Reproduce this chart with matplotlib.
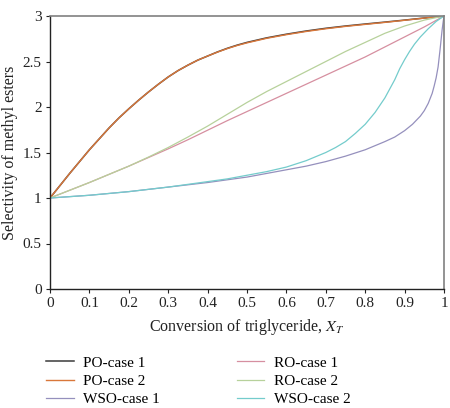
import matplotlib
matplotlib.use("Agg")
import matplotlib.pyplot as plt
import numpy as np

plt.rcParams['font.family'] = ['Liberation Serif', 'DejaVu Serif']
plt.rcParams['mathtext.fontset'] = 'stix'

# Data
po_x = [0, 0.025, 0.05, 0.075, 0.1, 0.125, 0.15, 0.175, 0.2, 0.225, 0.25, 0.275, 0.3, 0.325,
        0.35, 0.375, 0.4, 0.425, 0.45, 0.475, 0.5, 0.55, 0.6, 0.65, 0.7, 0.75, 0.8, 0.85, 0.9,
        0.95, 1.0]
po1_y = [1.0, 1.135, 1.27, 1.40, 1.53, 1.65, 1.77, 1.88, 1.98, 2.075, 2.165, 2.25, 2.33, 2.40,
         2.46, 2.515, 2.56, 2.605, 2.645, 2.68, 2.71, 2.76, 2.80, 2.835, 2.865, 2.89, 2.912, 2.933,
         2.955, 2.978, 3.0]
po2_y = [1.0, 1.135, 1.27, 1.40, 1.53, 1.65, 1.77, 1.88, 1.98, 2.075, 2.165, 2.25, 2.33, 2.40,
         2.46, 2.515, 2.56, 2.603, 2.642, 2.676, 2.705, 2.755, 2.795, 2.83, 2.86, 2.886, 2.908,
         2.93, 2.953, 2.977, 3.0]

ro_x = [0, 0.05, 0.1, 0.15, 0.2, 0.25, 0.3, 0.35, 0.4, 0.45, 0.5, 0.55, 0.6, 0.65, 0.7, 0.75,
        0.8, 0.85, 0.9, 0.95, 1.0]
ro1_y = [1.0, 1.085, 1.17, 1.26, 1.35, 1.445, 1.54, 1.64, 1.745, 1.85, 1.95, 2.05, 2.15, 2.25,
         2.35, 2.45, 2.55, 2.66, 2.77, 2.88, 3.0]
ro2_y = [1.0, 1.085, 1.17, 1.26, 1.35, 1.45, 1.555, 1.67, 1.79, 1.92, 2.05, 2.17, 2.28, 2.39,
         2.50, 2.61, 2.71, 2.81, 2.89, 2.955, 3.0]

wso1_x = [0, 0.05, 0.1, 0.15, 0.2, 0.25, 0.3, 0.35, 0.4, 0.45, 0.5, 0.55, 0.6, 0.65, 0.7, 0.75,
          0.8, 0.85, 0.875, 0.9, 0.92, 0.94, 0.95, 0.96, 0.97, 0.975, 0.98, 0.985, 0.99, 0.995,
          0.998, 1.0]
wso1_y = [1.0, 1.015, 1.03, 1.05, 1.07, 1.095, 1.12, 1.145, 1.17, 1.20, 1.23, 1.27, 1.31, 1.35,
          1.40, 1.46, 1.53, 1.62, 1.67, 1.74, 1.81, 1.90, 1.96, 2.04, 2.15, 2.23, 2.32, 2.44, 2.63,
          2.84, 2.94, 3.0]

wso2_x = [0, 0.05, 0.1, 0.15, 0.2, 0.25, 0.3, 0.35, 0.4, 0.45, 0.5, 0.55, 0.6, 0.65, 0.7, 0.725,
          0.75, 0.775, 0.8, 0.825, 0.85, 0.8625, 0.875, 0.8875, 0.9, 0.9125, 0.925, 0.94, 0.96,
          0.98, 1.0]
wso2_y = [1.0, 1.015, 1.03, 1.05, 1.07, 1.095, 1.12, 1.15, 1.18, 1.21, 1.25, 1.29, 1.34, 1.41,
          1.50, 1.555, 1.62, 1.71, 1.81, 1.94, 2.10, 2.20, 2.30, 2.42, 2.52, 2.61, 2.69, 2.77,
          2.86, 2.94, 3.0]

x_ticks = [0, 0.1, 0.2, 0.3, 0.4, 0.5, 0.6, 0.7, 0.8, 0.9, 1]
x_tick_labels = ['0', '0.1', '0.2', '0.3', '0.4', '0.5', '0.6', '0.7', '0.8', '0.9', '1']
y_ticks = [0, 0.5, 1, 1.5, 2, 2.5, 3]
y_tick_labels = ['0', '0.5', '1', '1.5', '2', '2.5', '3']

fig = plt.figure(figsize=(4.5, 4.08), dpi=100)
ax = fig.add_axes([50/450, (408-289)/408, 394/450, 273/408])

lw = 0.9
l_po1, = ax.plot(po_x, po1_y, color='#3a3a3a', lw=1.1, label='PO-case 1')
l_po2, = ax.plot(po_x, po2_y, color='#d9773a', lw=1.0, label='PO-case 2')
l_wso1, = ax.plot(wso1_x, wso1_y, color='#9590bd', lw=lw, label='WSO-case 1')
l_ro1, = ax.plot(ro_x, ro1_y, color='#d68fa0', lw=lw, label='RO-case 1')
l_ro2, = ax.plot(ro_x, ro2_y, color='#b7d19b', lw=lw, label='RO-case 2')
l_wso2, = ax.plot(wso2_x, wso2_y, color='#74cccc', lw=lw, label='WSO-case 2')

ax.set_xlim(0, 1)
ax.set_ylim(0, 3)
ax.set_xticks(x_ticks)
ax.set_xticklabels(x_tick_labels)
ax.set_yticks(y_ticks)
ax.set_yticklabels(y_tick_labels)
ax.tick_params(direction='out', length=3, width=0.8, labelsize=11, colors='#222222', pad=3)

for s in ['left', 'bottom']:
    ax.spines[s].set_color('#222222')
    ax.spines[s].set_linewidth(1.0)
for s in ['top', 'right']:
    ax.spines[s].set_color('#808080')
    ax.spines[s].set_linewidth(1.2)

ax.set_xlabel('Conversion of triglyceride, $X_T$', fontsize=11.5, color='#222222', labelpad=5)
ax.set_ylabel('Selectivity of methyl esters', fontsize=11.5, color='#222222', labelpad=3)

handles = [l_po1, l_po2, l_wso1, l_ro1, l_ro2, l_wso2]
fig.legend(handles=handles, labels=[h.get_label() for h in handles], ncol=2,
           loc='upper left', bbox_to_anchor=(46/450, 1 - 356/408), frameon=False,
           fontsize=11, handlelength=1.8, handletextpad=0.65, columnspacing=5.0,
           labelspacing=0.3, borderaxespad=0, borderpad=0)

fig.savefig('out.png', dpi=100)
